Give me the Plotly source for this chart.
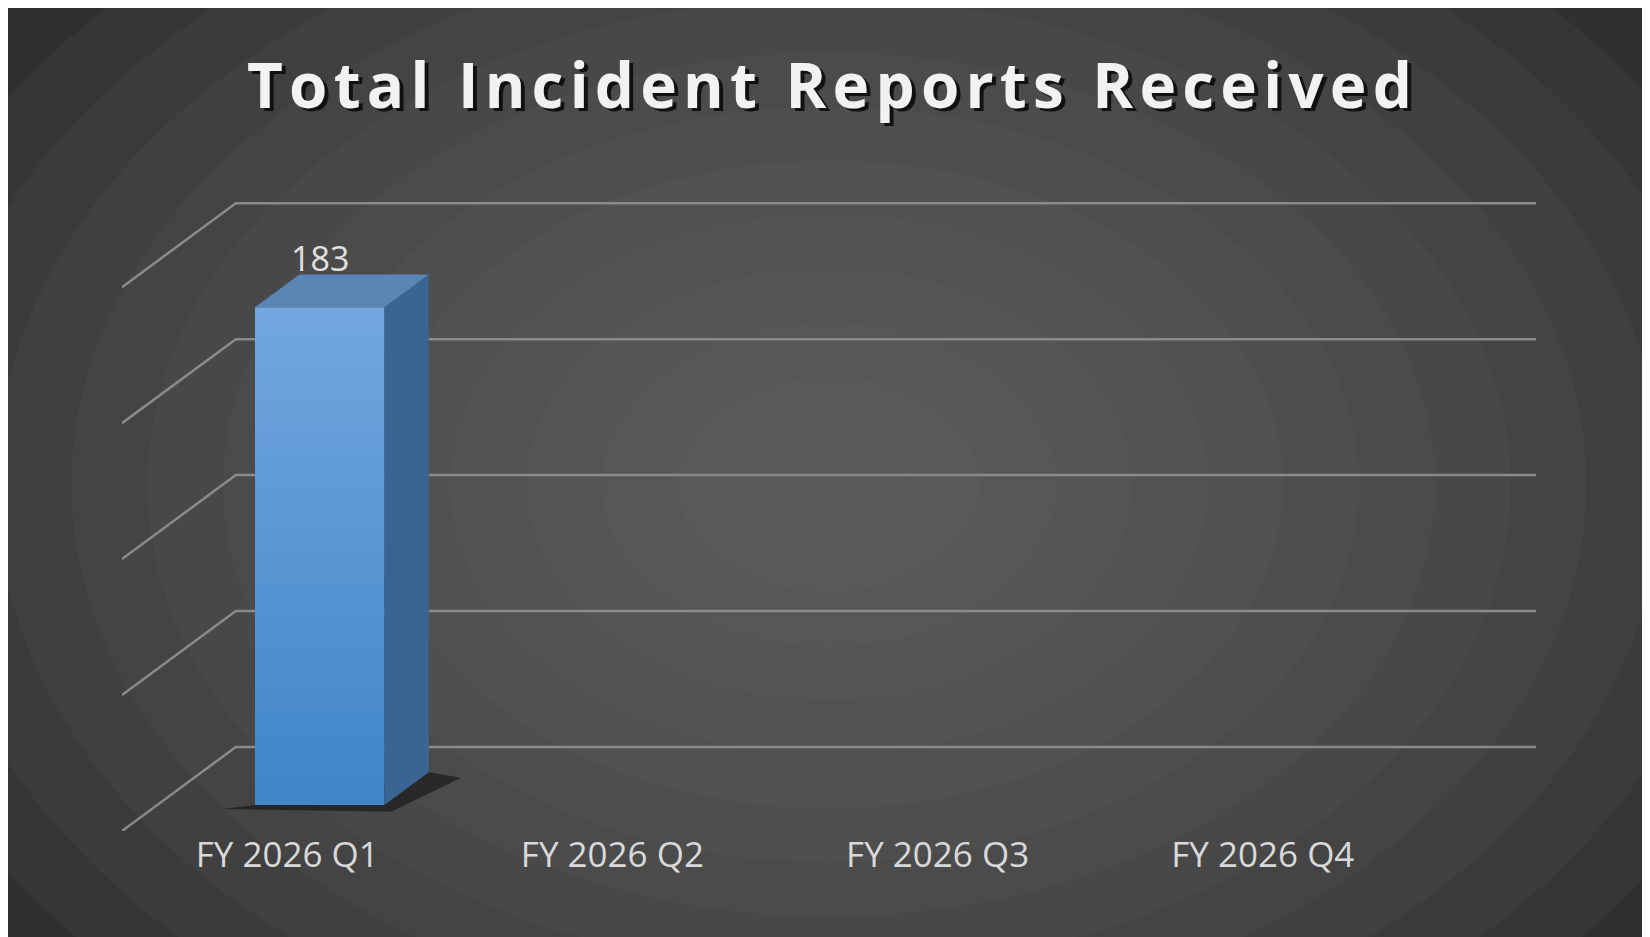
import plotly.graph_objects as go

categories = ["FY 2026 Q1", "FY 2026 Q2", "FY 2026 Q3", "FY 2026 Q4"]
values = [183, None, None, None]
grid_vals = [0, 50, 100, 150, 200]
title = "Total Incident Reports Received"

DX, DY = 0.35, 30.9      # depth offset in (category, value) units
XL, XR = -0.508, 3.84
BF, BB = 0.31, 0.70      # bar front/back depth fractions
HW = 0.199

fig = go.Figure()
shapes = []
n = 14
for i in range(n):
    r = 0.75 * (1 - i / n)
    shapes.append(dict(type="circle", xref="paper", yref="paper", layer="below",
                       x0=0.5 - r, x1=0.5 + r, y0=0.55 - r * 1.6, y1=0.55 + r * 1.6,
                       fillcolor="#6a6a6a", opacity=0.1, line_width=0))
for v in grid_vals:
    fig.add_trace(go.Scatter(x=[XL, XL + DX, XR], y=[v, v + DY, v + DY], mode="lines",
                             line=dict(color="#8a8a8a", width=2.5), hoverinfo="skip", showlegend=False))

for i, v in enumerate(values):
    if v is None:
        continue
    x0, x1 = i + 0.1 - HW, i + 0.1 + HW
    yb = BF * DY
    ox, oy = (BB - BF) * DX, (BB - BF) * DY
    fig.add_trace(go.Scatter(x=[x0 - 0.1, x1 + 0.02, x1 + ox + 0.1, x1 + ox, x0, x0 - 0.1],
                             y=[yb - 1.5, yb - 2.5, yb + oy - 2, yb + oy, yb, yb - 1.5], fill="toself",
                             fillcolor="rgba(0,0,0,0.45)", line_width=0, mode="lines",
                             hoverinfo="skip", showlegend=False))
    fig.add_trace(go.Scatter(x=[x0, x1, x1, x0, x0], y=[yb, yb, yb + v, yb + v, yb], fill="toself",
                             fillgradient=dict(type="vertical", colorscale=[[0, "#3f85c8"], [1, "#72a7de"]]),
                             line_width=0, mode="lines", hoverinfo="skip", showlegend=False))
    fig.add_trace(go.Scatter(x=[x1, x1 + ox, x1 + ox, x1, x1], y=[yb, yb + oy, yb + oy + v, yb + v, yb],
                             fill="toself", fillcolor="#3a6592", line_width=0, mode="lines",
                             hoverinfo="skip", showlegend=False))
    fig.add_trace(go.Scatter(x=[x0, x1, x1 + ox, x0 + ox, x0], y=[yb + v, yb + v, yb + v + oy, yb + v + oy, yb + v],
                             fill="toself", fillcolor="#5a86b6", line_width=0, mode="lines",
                             hoverinfo="skip", showlegend=False))
    fig.add_annotation(x=i + 0.1, y=yb + v + oy, yshift=-8, text=str(v), showarrow=False, yanchor="bottom",
                       font=dict(size=34, color="#e0e0e0", family="Open Sans"))

spaced = "\u200a".join(title)
fig.add_annotation(xref="paper", yref="paper", x=0.503, y=1.0, yshift=158, xanchor="center",
                   text="<b>" + spaced + "</b>", showarrow=False,
                   font=dict(size=62, color="#111111", family="Open Sans"))
fig.add_annotation(xref="paper", yref="paper", x=0.5, y=1.0, yshift=161, xanchor="center",
                   text="<b>" + spaced + "</b>", showarrow=False,
                   font=dict(size=62, color="#f2f2f2", family="Open Sans"))

fig.update_layout(width=1650, height=937, margin=dict(l=114, r=122, t=193, b=114),
                  paper_bgcolor="#2a2a2a", plot_bgcolor="rgba(0,0,0,0)", shapes=shapes,
                  xaxis=dict(range=[XL, XR], tickvals=list(range(4)), ticktext=categories,
                             showgrid=False, zeroline=False, showline=False,
                             tickfont=dict(size=35, color="#d9d9d9", family="Open Sans"), ticklen=0),
                  yaxis=dict(range=[0, 231.7], showgrid=False, zeroline=False, showticklabels=False))
fig.write_html("out.html")
